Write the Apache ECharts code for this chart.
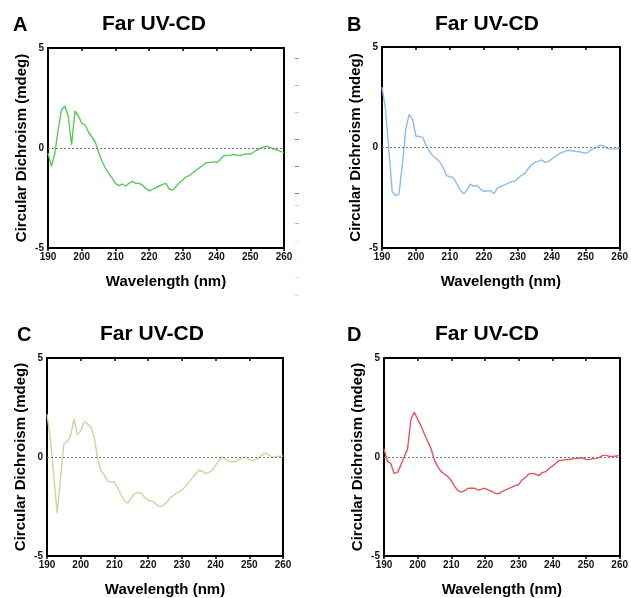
<!DOCTYPE html>
<html>
<head>
<meta charset="utf-8">
<script src="https://cdn.jsdelivr.net/npm/echarts@6/dist/echarts.min.js"></script>
<style>html,body{margin:0;padding:0;background:#fff;}#c{width:631px;height:598px;}</style>
</head>
<body>
<div id="c"></div>
<script>
const wavelengths = [190,191,192,193,194,195,196,197,198,199,200,201,202,203,204,205,206,207,208,209,210,211,212,213,214,215,216,217,218,219,220,221,222,223,224,225,226,227,228,229,230,231,232,233,234,235,236,237,238,239,240,241,242,243,244,245,246,247,248,249,250,251,252,253,254,255,256,257,258,259,260];
const seriesA = [-0.25,-0.93,-0.29,0.9,1.9,2.1,1.6,0.15,1.85,1.6, 1.25,1.15,0.8,0.55,0.3,-0.2,-0.65,-1.0,-1.27,-1.5, -1.77,-1.88,-1.8,-1.9,-1.77,-1.67,-1.77,-1.77,-1.85,-2.02, -2.15,-2.07,-1.98,-1.9,-1.82,-1.77,-2.07,-2.1,-1.93,-1.73, -1.6,-1.43,-1.38,-1.23,-1.1,-0.98,-0.85,-0.73,-0.73,-0.68, -0.73,-0.6,-0.4,-0.37,-0.37,-0.33,-0.35,-0.38,-0.32,-0.3, -0.3,-0.2,-0.1,-0.02,0.05,0.08,0.02,-0.05,-0.1,-0.17,-0.22];
const seriesB = [3.0,1.95,-0.1,-2.2,-2.4,-2.32,-0.85,0.9,1.65,1.4, 0.56,0.55,0.5,0.1,-0.2,-0.42,-0.55,-0.72,-1.0,-1.4, -1.45,-1.5,-1.8,-2.1,-2.31,-2.13,-1.82,-1.93,-1.88,-2.06, -2.18,-2.16,-2.15,-2.29,-2.01,-1.93,-1.86,-1.78,-1.7,-1.68, -1.55,-1.39,-1.3,-1.07,-0.86,-0.74,-0.69,-0.61,-0.74,-0.69, -0.58,-0.45,-0.33,-0.25,-0.18,-0.15,-0.15,-0.2,-0.2,-0.25, -0.28,-0.2,-0.08,0,0.1,0.1,0,-0.07,-0.07,-0.07,0];
const seriesC = [2.17,0.92,-0.92,-2.83,-1.08,0.67,0.78,1.08,1.92,1.12, 1.33,1.78,1.67,1.5,1.0,-0.08,-0.67,-0.92,-1.22,-1.28, -1.25,-1.58,-1.92,-2.22,-2.33,-2.08,-1.85,-1.8,-1.83,-2.05, -2.17,-2.22,-2.33,-2.47,-2.5,-2.37,-2.17,-2.0,-1.88,-1.78, -1.67,-1.5,-1.28,-1.08,-0.87,-0.67,-0.72,-0.83,-0.78,-0.67, -0.42,-0.17,0,-0.12,-0.22,-0.25,-0.22,-0.13,-0.03,0, -0.12,-0.2,-0.12,0,0.12,0.2,0.08,-0.03,0.03,0.03,0.05];
const seriesD = [0.41,-0.21,-0.33,-0.83,-0.79,-0.41,0,0.41,1.9,2.26, 1.9,1.57,1.16,0.78,0.41,-0.17,-0.5,-0.74,-0.87,-0.99, -1.2,-1.49,-1.7,-1.77,-1.7,-1.58,-1.57,-1.58,-1.67,-1.62, -1.58,-1.67,-1.73,-1.83,-1.86,-1.75,-1.67,-1.6,-1.52,-1.44, -1.4,-1.16,-1.04,-0.86,-0.83,-0.86,-0.94,-0.79,-0.74,-0.58, -0.46,-0.33,-0.17,-0.17,-0.13,-0.13,-0.08,-0.08,-0.05,-0.05, -0.12,-0.13,-0.08,-0.07,-0.02,0.08,0.08,0.03,0.03,0.05,0.07];
const xTicks = [190,200,210,220,230,240,250,260];
const yTicks = [-5,0,5];
const panelLetters = ['A','B','C','D'];
const panelTitle = 'Far UV-CD';
const xName = 'Wavelength (nm)';
const yName = 'Circular Dichroism (mdeg)';
const legendNames1 = ['k1','k2','k3','k4','k5','k6'];
const legendNames2 = ['k7','k8','k9','k10','k11','k12'];
const legendColors = ['#5cc85c','#8fbbe8','#cfcf9a','#e06070','#7a7ad0','#e05070','#f2b8c6','#b4b4ea','#c4f0f0','#f6f6dc','#e2e2ea','#d8e0b0'];

const FONT = '"Liberation Sans", Arial, sans-serif';
const seriesData = [seriesA, seriesB, seriesC, seriesD];
const colors = ['#5cc85c', '#8fbbe8', '#d4d0a0', '#e5535b'];
const grids = [
  {left: 48, top: 48, width: 236, height: 200},
  {left: 382, top: 47, width: 240, height: 201},
  {left: 47, top: 358, width: 236, height: 201},
  {left: 384, top: 358, width: 240, height: 202}
];
const titlePos = [
  {letter: [13, 15], title: [102, 14]},
  {letter: [347, 15], title: [435, 14]},
  {letter: [17, 325], title: [100, 324]},
  {letter: [347, 325], title: [435, 324]}
];

const xAxes = [], yAxes = [], series = [], titles = [];
grids.forEach((g, i) => {
  titles.push({text: panelLetters[i], left: titlePos[i].letter[0], top: titlePos[i].letter[1], padding: 0,
    textStyle: {fontFamily: FONT, fontSize: 20, fontWeight: 'bold', color: '#000'}});
  titles.push({text: panelTitle, left: titlePos[i].title[0], top: titlePos[i].title[1], padding: 0,
    textStyle: {fontFamily: FONT, fontSize: 21, fontWeight: 'bold', color: '#000'}});
  xAxes.push({
    type: 'value', gridIndex: i, min: 190, max: 260, interval: 10, position: 'bottom',
    name: xName, nameLocation: 'middle', nameGap: 26,
    nameTextStyle: {fontFamily: FONT, fontSize: 15, fontWeight: 'bold', color: '#000'},
    axisLine: {onZero: false, lineStyle: {color: '#000', width: 2}},
    axisTick: {length: 3, lineStyle: {color: '#000', width: 1.5}},
    axisLabel: {fontFamily: FONT, fontSize: 10, fontWeight: 'bold', color: '#111', margin: 4},
    splitLine: {show: false}
  });
  xAxes.push({
    type: 'value', gridIndex: i, min: 190, max: 260, interval: 10, position: 'top',
    axisLine: {onZero: false, lineStyle: {color: '#000', width: 2}},
    axisTick: {inside: true, length: 3, lineStyle: {color: '#000', width: 1.5}},
    axisLabel: {show: false}, splitLine: {show: false}
  });
  yAxes.push({
    type: 'value', gridIndex: i, min: -5, max: 5, interval: 5, position: 'left',
    name: yName, nameLocation: 'middle', nameGap: 19,
    nameTextStyle: {fontFamily: FONT, fontSize: 15, fontWeight: 'bold', color: '#000'},
    axisLine: {show: true, onZero: false, lineStyle: {color: '#000', width: 2}},
    axisTick: {show: false},
    axisLabel: {fontFamily: FONT, fontSize: 10, fontWeight: 'bold', color: '#111', margin: 4},
    splitLine: {show: false}
  });
  yAxes.push({
    type: 'value', gridIndex: i, min: -5, max: 5, interval: 5, position: 'right',
    axisLine: {show: true, onZero: false, lineStyle: {color: '#000', width: 2}},
    axisTick: {show: false}, axisLabel: {show: false}, splitLine: {show: false}
  });
  series.push({
    type: 'line', xAxisIndex: i * 2, yAxisIndex: i * 2,
    data: wavelengths.map((w, k) => [w, seriesData[i][k]]),
    showSymbol: false, symbol: 'none',
    lineStyle: {color: colors[i], width: 1.4},
    z: 3,
    markLine: {
      silent: true, symbol: 'none', animation: false,
      label: {show: false},
      lineStyle: {color: '#777', type: [2, 2], width: 1},
      data: [{yAxis: 0}]
    }
  });
});

legendNames1.concat(legendNames2).forEach((n, k) => {
  series.push({type: 'line', name: n, xAxisIndex: 0, yAxisIndex: 0, data: [],
    itemStyle: {color: legendColors[k]}, lineStyle: {color: legendColors[k]}});
});

const legendCommon = {
  orient: 'vertical', icon: 'rect', itemWidth: 4, itemHeight: 1, padding: 0,
  formatter: () => '', selectedMode: false,
  textStyle: {fontSize: 1, lineHeight: 1, padding: 0}
};

const chart = echarts.init(document.getElementById('c'), null, {renderer: 'canvas'});
chart.setOption({
  animation: false,
  backgroundColor: '#fff',
  title: titles,
  legend: [
    Object.assign({}, legendCommon, {data: legendNames1, left: 295, top: 58, itemGap: 26}),
    Object.assign({}, legendCommon, {data: legendNames2, left: 295, top: 205, itemGap: 17})
  ],
  grid: grids,
  xAxis: xAxes,
  yAxis: yAxes,
  series: series
});
</script>
</body>
</html>
